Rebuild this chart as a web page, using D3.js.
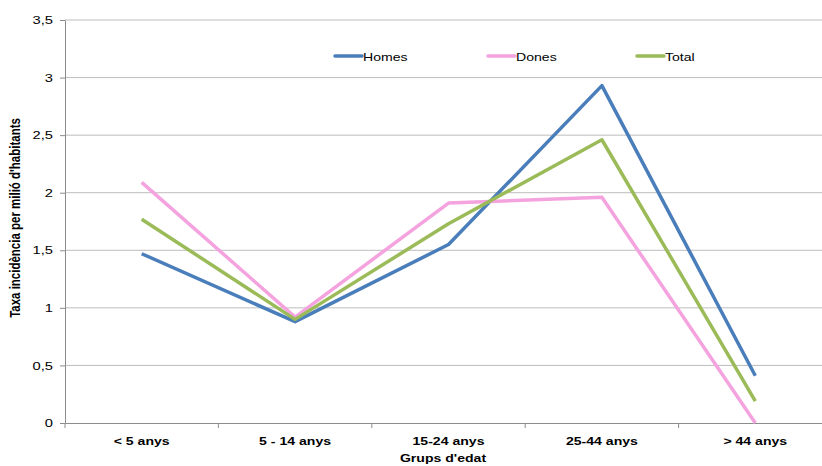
<!DOCTYPE html>
<html>
<head>
<meta charset="utf-8">
<script src="https://cdn.jsdelivr.net/npm/d3@7"></script>
<style>
  body { margin: 0; background: #fff; }
  svg { display: block; font-family: "Liberation Sans", Arial, sans-serif; }
</style>
</head>
<body>
<svg width="822" height="466"></svg>
<script>
// Data
const categories = ["< 5 anys", "5 - 14 anys", "15-24 anys", "25-44 anys", "> 44 anys"];
const homes = [1.47, 0.88, 1.55, 2.93, 0.41];
const dones = [2.09, 0.92, 1.91, 1.96, 0];
const total = [1.77, 0.90, 1.73, 2.46, 0.19];
const yTicks = [0, 0.5, 1, 1.5, 2, 2.5, 3, 3.5];

const series = [
    { name: "Homes", values: homes, color: "#4a7ebb", lx: 335 },
    { name: "Dones", values: dones, color: "#f4a3df", lx: 488 },
    { name: "Total", values: total, color: "#9bbb59", lx: 637 }
];

const svg = d3.select("svg");
const plotLeft = 65, plotTop = 20, plotBottom = 423, plotRight = 832;
// the original picture is stretched sideways, so the text is too
const sx = 1.28;

const x = d3.scaleBand().domain(categories).range([plotLeft, plotRight]);
const y = d3.scaleLinear().domain([0, 3.5]).range([plotBottom, plotTop]);

const fmt = d => String(d).replace(".", ",");

// Gridlines
svg.append("g")
    .selectAll("line")
    .data(yTicks.filter(d => d > 0))
    .enter().append("line")
    .attr("x1", plotLeft).attr("x2", 822)
    .attr("y1", d => y(d)).attr("y2", d => y(d))
    .attr("stroke", "#bdbdbd")
    .attr("stroke-width", 1);

// Y axis
const yAxis = svg.append("g")
    .attr("transform", `translate(${plotLeft},0)`)
    .call(d3.axisLeft(y).tickValues(yTicks).tickFormat(fmt).tickSize(5).tickSizeOuter(0));
yAxis.select(".domain").attr("stroke", "#8c8c8c");
yAxis.selectAll(".tick line").attr("stroke", "#8c8c8c");
yAxis.selectAll("text")
    .attr("x", -12 / sx)
    .attr("transform", `scale(${sx},1)`)
    .attr("font-size", 11.5)
    .attr("font-family", "Liberation Sans, Arial, sans-serif")
    .attr("fill", "#000");

// X axis
const xAxis = svg.append("g")
    .attr("transform", `translate(0,${plotBottom})`)
    .call(d3.axisBottom(x).tickSize(0).tickSizeOuter(0));
xAxis.select(".domain").attr("stroke", "#8c8c8c");
xAxis.selectAll("text")
    .attr("y", 14)
    .attr("transform", `scale(${sx},1)`)
    .attr("font-size", 11)
    .attr("font-weight", "bold")
    .attr("font-family", "Liberation Sans, Arial, sans-serif")
    .attr("fill", "#000");

// Boundary tick marks
svg.append("g")
    .selectAll("line")
    .data(categories)
    .enter().append("line")
    .attr("x1", d => x(d)).attr("x2", d => x(d))
    .attr("y1", plotBottom).attr("y2", plotBottom + 5)
    .attr("stroke", "#8c8c8c");

// Axis titles
svg.append("text")
    .attr("transform", `translate(443,462) scale(${sx},1)`)
    .attr("text-anchor", "middle")
    .attr("font-size", 11)
    .attr("font-weight", "bold")
    .text("Grups d'edat");

svg.append("text")
    .attr("transform", "translate(20,218) rotate(-90) scale(1,1.2)")
    .attr("text-anchor", "middle")
    .attr("font-size", 11.5)
    .attr("font-weight", "bold")
    .text("Taxa incidència per milió d'habitants");

// Lines
const line = d3.line()
    .x((d, i) => x(categories[i]) + x.bandwidth() / 2)
    .y(d => y(d));

svg.append("g")
    .selectAll("path")
    .data(series)
    .enter().append("path")
    .attr("d", d => line(d.values))
    .attr("fill", "none")
    .attr("stroke", d => d.color)
    .attr("stroke-width", 3.5)
    .attr("stroke-linejoin", "round");

// Legend
const legend = svg.append("g")
    .selectAll("g")
    .data(series)
    .enter().append("g");

legend.append("line")
    .attr("x1", d => d.lx).attr("x2", d => d.lx + 27)
    .attr("y1", 56).attr("y2", 56)
    .attr("stroke", d => d.color)
    .attr("stroke-width", 3.5)
    .attr("stroke-linecap", "round");

legend.append("text")
    .attr("transform", d => `translate(${d.lx + 28},60.5) scale(${sx},1)`)
    .attr("font-size", 11)
    .text(d => d.name);
</script>
</body>
</html>
